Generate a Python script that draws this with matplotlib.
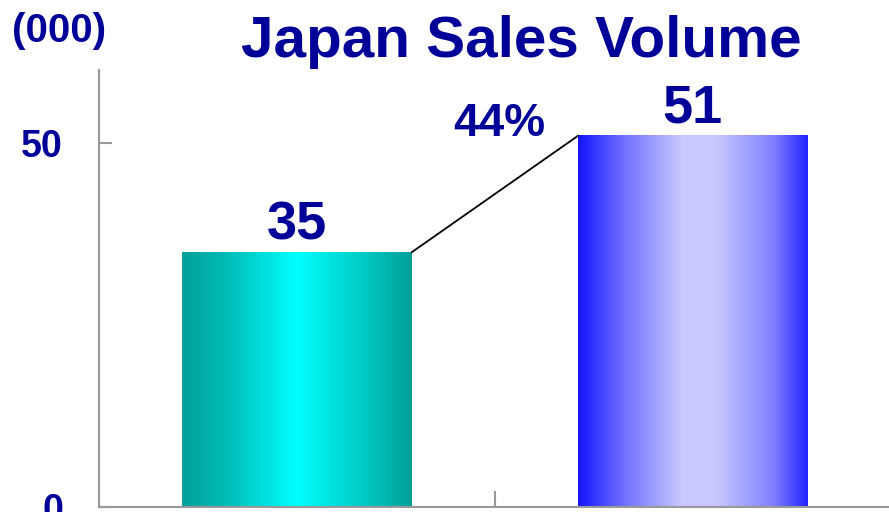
import numpy as np
import matplotlib.pyplot as plt
from matplotlib.colors import LinearSegmentedColormap

categories = ["Prior", "Current"]
volumes = [35, 51]
growth_label = "44%"
y_ticks = [0, 50]

NAVY = "#000099"
AXIS_GREY = "#999999"

plt.rcParams["font.family"] = ["Liberation Sans", "DejaVu Sans"]
plt.rcParams["font.weight"] = "bold"

fig = plt.figure(figsize=(8.89, 5.12), dpi=100)
ax = fig.add_axes([0.1114, 0.0098, 0.8906, 0.853])

x = np.arange(len(categories))
bars = ax.bar(x, volumes, width=0.58, color="none", zorder=3)

# horizontal shading for each bar: dark edges, bright middle
shades = [
    LinearSegmentedColormap.from_list(
        "teal", [(0, "#00A098"), (0.2, "#00BDB8"), (0.5, "#00FFFF"),
                 (0.8, "#00C8C2"), (1, "#00A098")]),
    LinearSegmentedColormap.from_list(
        "blue", [(0, "#1414FF"), (0.2, "#7070FF"), (0.45, "#C8C8FF"),
                 (0.6, "#C8C8FF"), (0.85, "#8080FF"), (1, "#2222FF")]),
]
grad = np.linspace(0, 1, 256).reshape(1, -1)
for bar, cmap in zip(bars, shades):
    x0, w, h = bar.get_x(), bar.get_width(), bar.get_height()
    ax.imshow(grad, cmap=cmap, aspect="auto", extent=(x0, x0 + w, 0, h),
              zorder=2, interpolation="bilinear")
    ax.annotate(f"{h:g}", (x0 + w / 2, h), xytext=(0, 1.5),
                textcoords="offset points", ha="center", va="bottom",
                fontsize=39, fontweight="bold", color=NAVY)

# connector between the two bar tops
b0, b1 = bars
ax.plot([b0.get_x() + b0.get_width(), b1.get_x()],
        [b0.get_height(), b1.get_height()], color="black", lw=1.3, zorder=4)
ax.text(0.51, 52.6, growth_label, ha="center", va="center",
        fontsize=33, fontweight="bold", color=NAVY)

ax.set_xlim(-0.5, 1.5)
ax.set_ylim(0, 60)
ax.set_yticks(y_ticks)
ax.set_yticklabels([str(t) for t in y_ticks])
ax.set_xticks([0.5])
ax.set_xticklabels([""])

for side in ["top", "right"]:
    ax.spines[side].set_visible(False)
for side in ["left", "bottom"]:
    ax.spines[side].set_color(AXIS_GREY)
    ax.spines[side].set_linewidth(1.5)
    ax.spines[side].set_zorder(5)

ax.tick_params(axis="y", direction="in", length=9, width=1.5,
               color=AXIS_GREY, pad=26, labelsize=27, labelcolor=NAVY)
ax.tick_params(axis="x", direction="in", length=11.5, width=1.5,
               color=AXIS_GREY)
for lbl in ax.get_yticklabels():
    lbl.set_fontweight("bold")

fig.text(521 / 889, 1 - 57 / 512, "Japan Sales Volume", ha="center",
         va="baseline", fontsize=42, fontweight="bold", color=NAVY)
fig.text(12 / 889, 1 - 42 / 512, "(000)", ha="left", va="baseline",
         fontsize=29, fontweight="bold", color=NAVY)

fig.savefig("out.png", dpi=100)
